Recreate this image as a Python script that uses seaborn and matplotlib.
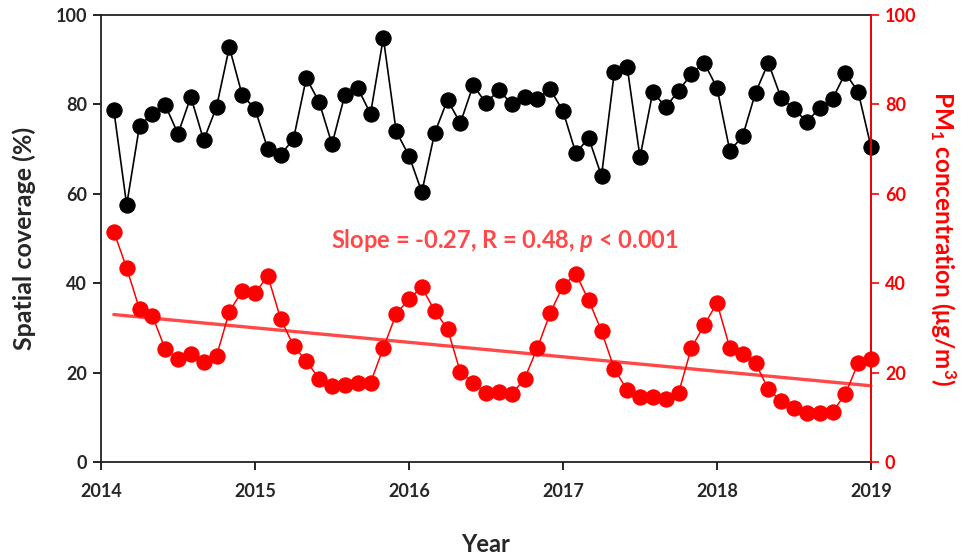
import numpy as np
import pandas as pd
import matplotlib
matplotlib.use("Agg")
import matplotlib.pyplot as plt
import seaborn as sns

# Monthly time axis (fraction of year)
months = np.arange(1, 61)
years = 2014 + months / 12.0

spatial_coverage = [
    78.7, 57.5, 75.2, 77.9, 79.9, 73.4, 81.7, 72.0, 79.4, 92.8,
    82.1, 79.0, 70.0, 68.7, 72.3, 85.9, 80.5, 71.1, 82.1, 83.7,
    77.9, 94.9, 74.0, 68.5, 60.4, 73.6, 81.0, 75.8, 84.3, 80.3,
    83.2, 80.1, 81.6, 81.2, 83.4, 78.5, 69.1, 72.5, 64.0, 87.2,
    88.4, 68.2, 82.8, 79.4, 83.0, 86.8, 89.3, 83.7, 69.6, 72.9,
    82.6, 89.3, 81.4, 79.0, 76.1, 79.2, 81.2, 87.0, 82.8, 70.5,
]

pm1 = [
    51.5, 43.4, 34.2, 32.7, 25.3, 23.0, 24.2, 22.4, 23.7, 33.6,
    38.3, 37.8, 41.6, 32.0, 26.0, 22.6, 18.6, 17.0, 17.2, 17.7,
    17.7, 25.5, 33.1, 36.5, 39.1, 33.8, 29.8, 20.1, 17.7, 15.4,
    15.7, 15.2, 18.6, 25.5, 33.3, 39.4, 42.1, 36.2, 29.3, 20.8,
    16.1, 14.5, 14.5, 14.1, 15.4, 25.5, 30.6, 35.6, 25.5, 24.2,
    22.1, 16.3, 13.6, 12.1, 11.0, 11.0, 11.2, 15.2, 22.1, 23.0,
]

x_ticks = [2014, 2015, 2016, 2017, 2018, 2019]
y_ticks = [0, 20, 40, 60, 80, 100]
annotation = r"Slope = -0.27, R = 0.48, $\mathbfit{p}$ < 0.001"

df = pd.DataFrame({"year": years, "coverage": spatial_coverage, "pm1": pm1})

sns.set_style("white")
plt.rcParams["font.family"] = ["Lato", "DejaVu Sans"]
plt.rcParams["font.weight"] = "bold"
plt.rcParams["mathtext.fontset"] = "custom"
plt.rcParams["mathtext.rm"] = "Lato:bold"
plt.rcParams["mathtext.bf"] = "Lato:bold"
plt.rcParams["mathtext.it"] = "Lato:bold:italic"
plt.rcParams["mathtext.bfit"] = "Lato:bold:italic"

red = "#FF0000"
trend_red = "#FF4848"

fig = plt.figure(figsize=(9.68, 5.6), dpi=100)
ax = fig.add_axes([101 / 968, 98 / 560, 770 / 968, 447 / 560])

sns.lineplot(data=df, x="year", y="coverage", ax=ax, color="black",
             marker="o", markersize=11, markeredgecolor="black",
             linewidth=1.2, zorder=3)

ax2 = ax.twinx()
sns.lineplot(data=df, x="year", y="pm1", ax=ax2, color=red,
             marker="o", markersize=11, markeredgecolor=red,
             linewidth=1.1, zorder=3)
sns.regplot(data=df, x="year", y="pm1", ax=ax2, scatter=False, ci=None,
            truncate=True, line_kws={"color": trend_red, "linewidth": 2.4, "zorder": 2})

for a in (ax, ax2):
    a.set_xlim(2014, 2019)
    a.set_ylim(0, 100)
    a.grid(False)
    for ln in a.get_lines():
        ln.set_clip_on(False)

ax.set_xticks(x_ticks)
ax.set_xticklabels([str(t) for t in x_ticks], fontsize=13, fontweight="bold")
ax.set_yticks(y_ticks)
ax.set_yticklabels([str(t) for t in y_ticks], fontsize=13, fontweight="bold")
ax2.set_yticks(y_ticks)
ax2.set_yticklabels([str(t) for t in y_ticks], fontsize=13, fontweight="bold", color=red)

ax.tick_params(axis="both", direction="out", length=6, width=1.2, color="black",
               left=True, bottom=True, pad=4)
ax.tick_params(axis="x", pad=9)
ax2.tick_params(axis="y", direction="out", length=6, width=1.2, color=red,
                right=True, labelcolor=red, pad=4)

for s in ax.spines.values():
    s.set_color("#222222")
    s.set_linewidth(1.3)
for name, s in ax2.spines.items():
    if name == "right":
        s.set_color(red)
        s.set_linewidth(1.3)
    else:
        s.set_visible(False)

ax.set_xlabel("Year", fontsize=17, fontweight="bold", labelpad=24)
ax.set_ylabel("Spatial coverage (%)", fontsize=18, fontweight="bold", labelpad=14)
ax2.set_ylabel(r"PM$_\mathbf{1}$ concentration (μg/m$^\mathbf{3}$)", fontsize=17.5,
               fontweight="bold", color=red, rotation=270, labelpad=30)

ax2.text(0.525, 0.495, annotation, transform=ax2.transAxes, ha="center", va="center",
         fontsize=17, fontweight="bold", color=trend_red)

fig.savefig("out.png", dpi=100)
